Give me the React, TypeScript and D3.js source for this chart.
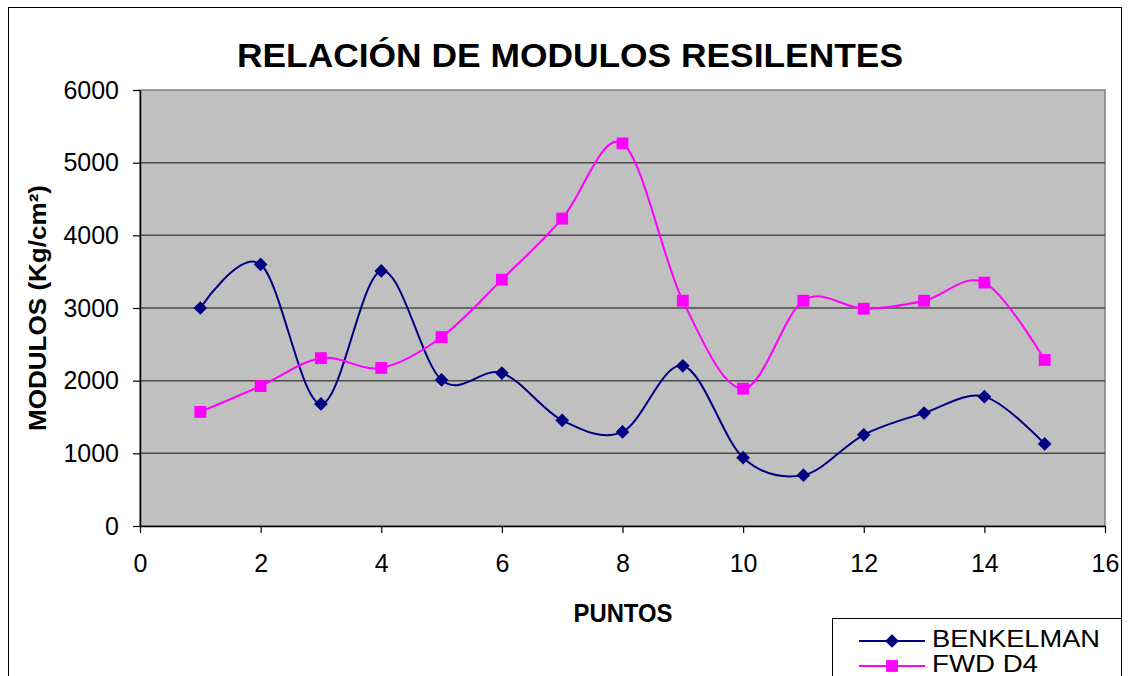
import React, { useRef, useEffect } from "react";
import * as d3 from "d3";

const puntos = [1, 2, 3, 4, 5, 6, 7, 8, 9, 10, 11, 12, 13, 14, 15];
const benkelman = [3000, 3600, 1680, 3510, 2010, 2105, 1455, 1295, 2205, 940, 700, 1255, 1555, 1780, 1130];
const fwdD4 = [1570, 1925, 2310, 2175, 2600, 3390, 4230, 5265, 3100, 1890, 3100, 2990, 3100, 3350, 2285];
const xTicks = [0, 2, 4, 6, 8, 10, 12, 14, 16];
const yTicks = [0, 1000, 2000, 3000, 4000, 5000, 6000];

const W = 1128;
const H = 676;
const margin = { top: 90, right: 23, bottom: 150, left: 140 };
const font = "'Liberation Sans', Arial, sans-serif";

const App = () => {
  const svgRef = useRef<SVGSVGElement>(null);

  useEffect(() => {
    const svg = d3.select(svgRef.current);
    svg.selectAll("*").remove();

    const x = d3.scaleLinear().domain([0, 16]).range([margin.left, W - margin.right]);
    const y = d3.scaleLinear().domain([0, 6000]).range([H - margin.bottom, margin.top]);

    // outer chart border
    svg.append("rect")
      .attr("x", 8.5).attr("y", 7.5).attr("width", 1113).attr("height", 700)
      .attr("fill", "white").attr("stroke", "#000").attr("stroke-width", 1);

    // title
    svg.append("text")
      .attr("x", 570).attr("y", 67)
      .attr("text-anchor", "middle")
      .attr("textLength", 666).attr("lengthAdjust", "spacingAndGlyphs")
      .style("font-family", font).style("font-weight", "bold").style("font-size", "34px")
      .text("RELACIÓN DE MODULOS RESILENTES");

    // plot area
    svg.append("rect")
      .attr("x", x(0)).attr("y", y(6000))
      .attr("width", x(16) - x(0)).attr("height", y(0) - y(6000))
      .attr("fill", "#C0C0C0").attr("stroke", "#808080").attr("stroke-width", 1.5);

    // gridlines
    svg.append("g").selectAll("line")
      .data(yTicks.filter((t) => t > 0 && t < 6000))
      .enter().append("line")
      .attr("x1", x(0)).attr("x2", x(16))
      .attr("y1", (d) => y(d)).attr("y2", (d) => y(d))
      .attr("stroke", "#4a4a4a").attr("stroke-width", 1.5);

    // axes
    const yAxis = svg.append("g")
      .attr("transform", `translate(${x(0)},0)`)
      .call(d3.axisLeft(y).tickValues(yTicks).tickFormat(d3.format("d")).tickSize(7).tickPadding(14).tickSizeOuter(0));
    const xAxis = svg.append("g")
      .attr("transform", `translate(0,${y(0)})`)
      .call(d3.axisBottom(x).tickValues(xTicks).tickFormat(d3.format("d")).tickSize(7).tickSizeOuter(0));
    [yAxis, xAxis].forEach((g) => {
      g.select(".domain").attr("stroke", "#000").attr("stroke-width", 1.5);
      g.selectAll(".tick line").attr("stroke", "#000").attr("stroke-width", 1.2);
      g.selectAll(".tick text")
        .attr("fill", "#000")
        .style("font-family", font).style("font-size", "25px");
    });
    xAxis.selectAll(".tick text").attr("y", 46).attr("dy", 0);

    // axis titles
    svg.append("text")
      .attr("transform", `translate(46,${(y(0) + y(6000)) / 2}) rotate(-90)`)
      .attr("text-anchor", "middle")
      .attr("textLength", 246).attr("lengthAdjust", "spacingAndGlyphs")
      .style("font-family", font).style("font-weight", "bold").style("font-size", "24px")
      .text("MODULOS (Kg/cm²)");
    svg.append("text")
      .attr("x", 623).attr("y", 622)
      .attr("text-anchor", "middle")
      .attr("textLength", 99).attr("lengthAdjust", "spacingAndGlyphs")
      .style("font-family", font).style("font-weight", "bold").style("font-size", "25px")
      .text("PUNTOS");

    const line = d3.line<number>()
      .x((d, i) => x(puntos[i]))
      .y((d) => y(d))
      .curve(d3.curveCardinal.tension(0));

    const diamond = d3.symbol().type(d3.symbolDiamond2).size(120);
    const square = d3.symbol().type(d3.symbolSquare).size(140);

    const series = [
      { name: "BENKELMAN", values: benkelman, color: "#000080", sym: diamond, textW: 168 },
      { name: "FWD D4", values: fwdD4, color: "#FF00FF", sym: square, textW: 106 },
    ];

    series.forEach((s) => {
      svg.append("path")
        .datum(s.values)
        .attr("fill", "none")
        .attr("stroke", s.color)
        .attr("stroke-width", 2)
        .attr("d", line);
      svg.append("g").selectAll("path")
        .data(s.values)
        .enter().append("path")
        .attr("transform", (d, i) => `translate(${x(puntos[i])},${y(d)})`)
        .attr("d", s.sym() as string)
        .attr("fill", s.color);
    });

    // legend
    svg.append("rect")
      .attr("x", 832.5).attr("y", 618.5).attr("width", 289).attr("height", 80)
      .attr("fill", "white").attr("stroke", "#000").attr("stroke-width", 1);
    series.forEach((s, i) => {
      const ly = 641 + i * 25;
      const g = svg.append("g");
      g.append("line")
        .attr("x1", 859).attr("x2", 925).attr("y1", ly).attr("y2", ly)
        .attr("stroke", s.color).attr("stroke-width", 2);
      g.append("path")
        .attr("transform", `translate(892,${ly})`)
        .attr("d", s.sym() as string)
        .attr("fill", s.color);
      g.append("text")
        .attr("x", 932).attr("y", ly + 6)
        .attr("textLength", s.textW).attr("lengthAdjust", "spacingAndGlyphs")
        .style("font-family", font).style("font-size", "24px")
        .text(s.name);
    });
  }, []);

  return (
    <svg
      ref={svgRef}
      width={W}
      height={H}
      style={{ position: "absolute", left: 0, top: 0, display: "block", background: "white" }}
    ></svg>
  );
};

export default App;
